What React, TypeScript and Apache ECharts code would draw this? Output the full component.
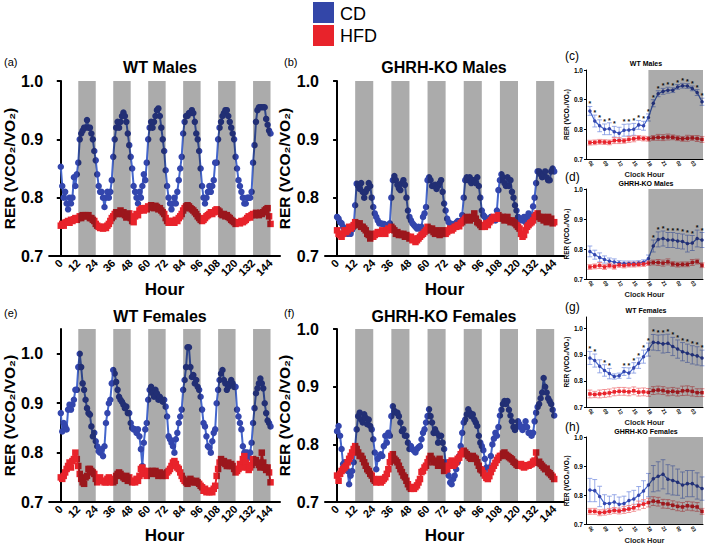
import React, { useEffect, useRef } from "react";
import * as echarts from "echarts";

// ---------- DATA ----------
const hours = Array.from({ length: 145 }, (_, i) => i);
const hourTicks = [0, 12, 24, 36, 48, 60, 72, 84, 96, 108, 120, 132, 144];
const darkBands = [[12, 24], [36, 48], [60, 72], [84, 96], [108, 120], [132, 144]];

const aCD = [
  0.853, 0.82, 0.80, 0.81, 0.79, 0.78, 0.80, 0.79, 0.80, 0.835,
  0.82, 0.84, 0.86, 0.90, 0.91, 0.915, 0.92, 0.92, 0.933, 0.92,
  0.92, 0.91, 0.90, 0.88, 0.864, 0.84, 0.82, 0.81, 0.81, 0.80,
  0.784, 0.80, 0.81, 0.80, 0.81, 0.83, 0.87, 0.90, 0.92, 0.93,
  0.92, 0.93, 0.94, 0.946, 0.94, 0.93, 0.91, 0.89, 0.87, 0.85,
  0.82, 0.81, 0.80, 0.79, 0.81, 0.80, 0.82, 0.84, 0.83, 0.86,
  0.90, 0.92, 0.93, 0.92, 0.93, 0.94, 0.95, 0.953, 0.94, 0.92,
  0.90, 0.88, 0.847, 0.82, 0.80, 0.79, 0.78, 0.79, 0.80, 0.79,
  0.81, 0.83, 0.85, 0.87, 0.91, 0.93, 0.94, 0.94, 0.945, 0.945,
  0.95, 0.945, 0.93, 0.91, 0.90, 0.88, 0.85, 0.82, 0.80, 0.79,
  0.80, 0.81, 0.82, 0.81, 0.82, 0.83, 0.86, 0.86, 0.90, 0.92,
  0.93, 0.94, 0.945, 0.95, 0.95, 0.94, 0.93, 0.92, 0.91, 0.90,
  0.87, 0.85, 0.83, 0.82, 0.81, 0.80, 0.79, 0.79, 0.80, 0.80,
  0.80, 0.81, 0.86, 0.89, 0.93, 0.95, 0.955, 0.955, 0.955, 0.955,
  0.955, 0.935, 0.925, 0.915, 0.91,
];
const aHFD = [
  0.752, 0.755, 0.752, 0.757, 0.758, 0.760, 0.757, 0.762, 0.760, 0.763,
  0.765, 0.762, 0.765, 0.768, 0.765, 0.770, 0.768, 0.770, 0.768, 0.770,
  0.765, 0.765, 0.762, 0.760, 0.755, 0.752, 0.750, 0.748, 0.750, 0.747,
  0.750, 0.748, 0.752, 0.755, 0.760, 0.765, 0.768, 0.772, 0.775, 0.772,
  0.775, 0.778, 0.772, 0.775, 0.770, 0.766, 0.770, 0.773, 0.765, 0.760,
  0.758, 0.768, 0.772, 0.770, 0.778, 0.780, 0.782, 0.778, 0.782, 0.780,
  0.785, 0.783, 0.787, 0.785, 0.782, 0.786, 0.784, 0.780, 0.782, 0.778,
  0.775, 0.772, 0.765, 0.760, 0.757, 0.760, 0.758, 0.760, 0.757, 0.762,
  0.760, 0.765, 0.768, 0.772, 0.778, 0.782, 0.785, 0.787, 0.785, 0.782,
  0.780, 0.778, 0.775, 0.772, 0.768, 0.765, 0.762, 0.760, 0.762, 0.765,
  0.768, 0.770, 0.772, 0.775, 0.772, 0.775, 0.778, 0.780, 0.778, 0.776,
  0.772, 0.770, 0.772, 0.768, 0.770, 0.767, 0.765, 0.762, 0.760, 0.758,
  0.755, 0.757, 0.758, 0.756, 0.760, 0.758, 0.760, 0.762, 0.765, 0.768,
  0.766, 0.770, 0.772, 0.770, 0.774, 0.772, 0.770, 0.774, 0.772, 0.775,
  0.778, 0.780, 0.782, 0.768, 0.755,
];
const bCD = [
  0.767, 0.764, 0.758, 0.756, 0.750, 0.744, 0.740, 0.738, 0.742, 0.738,
  0.745, 0.750, 0.787, 0.824, 0.820, 0.815, 0.825, 0.810, 0.800, 0.810,
  0.815, 0.825, 0.820, 0.800, 0.784, 0.773, 0.767, 0.761, 0.756, 0.756,
  0.755, 0.755, 0.753, 0.753, 0.750, 0.756, 0.800, 0.830, 0.837, 0.830,
  0.822, 0.816, 0.813, 0.825, 0.830, 0.822, 0.800, 0.778, 0.767, 0.761,
  0.756, 0.753, 0.750, 0.747, 0.750, 0.747, 0.750, 0.767, 0.773, 0.784,
  0.830, 0.835, 0.830, 0.820, 0.820, 0.822, 0.815, 0.820, 0.825, 0.830,
  0.810, 0.790, 0.778, 0.764, 0.758, 0.755, 0.755, 0.753, 0.755, 0.757,
  0.760, 0.758, 0.760, 0.770, 0.800, 0.830, 0.835, 0.830, 0.835, 0.825,
  0.830, 0.830, 0.825, 0.835, 0.820, 0.800, 0.778, 0.770, 0.767, 0.762,
  0.761, 0.762, 0.767, 0.765, 0.764, 0.761, 0.778, 0.813, 0.830, 0.840,
  0.835, 0.825, 0.820, 0.835, 0.820, 0.830, 0.810, 0.800, 0.787, 0.778,
  0.767, 0.761, 0.764, 0.761, 0.767, 0.758, 0.767, 0.773, 0.764, 0.767,
  0.785, 0.800, 0.825, 0.845, 0.845, 0.840, 0.835, 0.840, 0.845, 0.835,
  0.830, 0.830, 0.845, 0.850, 0.845,
];
const bHFD = [
  0.744, 0.738, 0.736, 0.733, 0.738, 0.744, 0.741, 0.744, 0.750, 0.747,
  0.750, 0.753, 0.758, 0.756, 0.753, 0.756, 0.750, 0.750, 0.747, 0.744,
  0.738, 0.736, 0.730, 0.738, 0.733, 0.736, 0.738, 0.741, 0.738, 0.741,
  0.744, 0.741, 0.738, 0.744, 0.747, 0.745, 0.750, 0.747, 0.744, 0.738,
  0.741, 0.736, 0.738, 0.736, 0.738, 0.733, 0.736, 0.733, 0.730, 0.733,
  0.727, 0.730, 0.724, 0.727, 0.730, 0.733, 0.736, 0.738, 0.741, 0.744,
  0.750, 0.747, 0.744, 0.747, 0.741, 0.738, 0.744, 0.741, 0.736, 0.738,
  0.744, 0.738, 0.738, 0.741, 0.744, 0.747, 0.744, 0.747, 0.750, 0.750,
  0.753, 0.751, 0.756, 0.758, 0.761, 0.764, 0.767, 0.764, 0.761, 0.764,
  0.767, 0.773, 0.764, 0.758, 0.756, 0.753, 0.750, 0.753, 0.750, 0.756,
  0.753, 0.758, 0.761, 0.764, 0.767, 0.764, 0.767, 0.770, 0.767, 0.764,
  0.767, 0.761, 0.764, 0.767, 0.761, 0.758, 0.761, 0.758, 0.756, 0.753,
  0.750, 0.747, 0.738, 0.733, 0.736, 0.744, 0.750, 0.753, 0.756, 0.758,
  0.761, 0.767, 0.770, 0.773, 0.767, 0.764, 0.767, 0.761, 0.764, 0.758,
  0.767, 0.761, 0.764, 0.756, 0.758,
];
const eCD = [
  0.88, 0.843, 0.86, 0.853, 0.847, 0.887, 0.897, 0.887, 0.897, 0.907,
  0.927, 0.927, 0.973, 1.0, 0.973, 0.94, 0.927, 0.907, 0.89, 0.88,
  0.877, 0.853, 0.833, 0.84, 0.823, 0.813, 0.803, 0.80, 0.807, 0.793,
  0.813, 0.86, 0.88, 0.90, 0.907, 0.94, 0.967, 0.96, 0.943, 0.927,
  0.913, 0.907, 0.903, 0.897, 0.89, 0.893, 0.88, 0.88, 0.86, 0.85,
  0.847, 0.847, 0.84, 0.847, 0.833, 0.807, 0.773, 0.82, 0.847, 0.86,
  0.907, 0.927, 0.933, 0.92, 0.913, 0.927, 0.92, 0.907, 0.913, 0.907,
  0.903, 0.907, 0.893, 0.873, 0.833, 0.827, 0.82, 0.813, 0.80, 0.827,
  0.84, 0.86, 0.873, 0.887, 0.927, 0.947, 0.973, 1.013, 1.013, 0.973,
  0.953, 0.957, 0.94, 0.947, 0.933, 0.927, 0.913, 0.887, 0.86, 0.853,
  0.833, 0.813, 0.81, 0.80, 0.823, 0.84, 0.847, 0.90, 0.927, 0.947,
  0.96, 0.967, 0.947, 0.94, 0.927, 0.933, 0.94, 0.947, 0.94, 0.933,
  0.933, 0.887, 0.873, 0.86, 0.847, 0.813, 0.80, 0.80, 0.80, 0.79,
  0.80, 0.82, 0.86, 0.89, 0.92, 0.93, 0.94, 0.95, 0.94, 0.93,
  0.90, 0.88, 0.865, 0.86, 0.853,
];
const eHFD = [
  0.75, 0.747, 0.753, 0.76, 0.767, 0.773, 0.78, 0.77, 0.783, 0.787,
  0.80, 0.787, 0.773, 0.757, 0.747, 0.74, 0.737, 0.75, 0.753, 0.767,
  0.767, 0.763, 0.76, 0.757, 0.747, 0.74, 0.747, 0.75, 0.743, 0.743,
  0.74, 0.74, 0.747, 0.75, 0.74, 0.747, 0.74, 0.743, 0.753, 0.757,
  0.76, 0.757, 0.753, 0.75, 0.747, 0.753, 0.743, 0.75, 0.743, 0.74,
  0.743, 0.74, 0.747, 0.743, 0.753, 0.767, 0.77, 0.763, 0.757, 0.753,
  0.763, 0.76, 0.757, 0.763, 0.76, 0.763, 0.757, 0.753, 0.76, 0.757,
  0.753, 0.757, 0.753, 0.76, 0.763, 0.767, 0.773, 0.78, 0.783, 0.777,
  0.77, 0.767, 0.76, 0.753, 0.747, 0.743, 0.74, 0.737, 0.743, 0.747,
  0.743, 0.74, 0.74, 0.743, 0.74, 0.737, 0.733, 0.73, 0.723, 0.727,
  0.72, 0.723, 0.72, 0.723, 0.72, 0.727, 0.733, 0.753, 0.767, 0.78,
  0.787, 0.78, 0.783, 0.777, 0.773, 0.78, 0.773, 0.777, 0.773, 0.767,
  0.76, 0.763, 0.767, 0.777, 0.77, 0.787, 0.793, 0.78, 0.77, 0.765,
  0.77, 0.775, 0.787, 0.78, 0.785, 0.78, 0.775, 0.77, 0.80, 0.78,
  0.77, 0.765, 0.77, 0.76, 0.74,
];
const fCD = [
  0.823, 0.832, 0.815, 0.792, 0.766, 0.769, 0.757, 0.754, 0.731, 0.746,
  0.754, 0.769, 0.797, 0.826, 0.849, 0.855, 0.843, 0.838, 0.852, 0.846,
  0.835, 0.843, 0.832, 0.826, 0.809, 0.786, 0.757, 0.775, 0.780, 0.783,
  0.780, 0.797, 0.815, 0.803, 0.820, 0.815, 0.849, 0.866, 0.858, 0.855,
  0.855, 0.849, 0.838, 0.823, 0.826, 0.815, 0.815, 0.803, 0.792, 0.797,
  0.792, 0.789, 0.786, 0.792, 0.795, 0.797, 0.809, 0.820, 0.826, 0.838,
  0.849, 0.861, 0.849, 0.838, 0.820, 0.826, 0.820, 0.803, 0.815, 0.815,
  0.803, 0.792, 0.769, 0.754, 0.746, 0.734, 0.731, 0.740, 0.746, 0.757,
  0.769, 0.780, 0.797, 0.820, 0.838, 0.843, 0.852, 0.861, 0.855, 0.849,
  0.852, 0.843, 0.838, 0.832, 0.815, 0.803, 0.797, 0.79, 0.775, 0.76,
  0.745, 0.76, 0.78, 0.80, 0.81, 0.82, 0.815, 0.83, 0.85, 0.86,
  0.87, 0.875, 0.87, 0.875, 0.86, 0.85, 0.84, 0.83, 0.825, 0.83,
  0.84, 0.835, 0.83, 0.825, 0.83, 0.84, 0.83, 0.82, 0.82, 0.815,
  0.82, 0.84, 0.855, 0.865, 0.87, 0.88, 0.89, 0.915, 0.90, 0.89,
  0.88, 0.875, 0.87, 0.86, 0.85,
];
const fHFD = [
  0.746, 0.737, 0.749, 0.754, 0.757, 0.760, 0.763, 0.769, 0.775, 0.780,
  0.786, 0.792, 0.797, 0.792, 0.786, 0.780, 0.780, 0.775, 0.769, 0.763,
  0.757, 0.754, 0.749, 0.746, 0.740, 0.737, 0.734, 0.737, 0.740, 0.734,
  0.737, 0.740, 0.743, 0.749, 0.757, 0.769, 0.780, 0.783, 0.775, 0.772,
  0.769, 0.763, 0.757, 0.752, 0.746, 0.743, 0.737, 0.731, 0.726, 0.723,
  0.726, 0.723, 0.726, 0.729, 0.734, 0.740, 0.752, 0.754, 0.760, 0.763,
  0.769, 0.775, 0.780, 0.775, 0.769, 0.772, 0.769, 0.763, 0.775, 0.769,
  0.763, 0.754, 0.757, 0.757, 0.763, 0.769, 0.772, 0.763, 0.766, 0.769,
  0.775, 0.777, 0.783, 0.786, 0.789, 0.786, 0.783, 0.780, 0.777, 0.775,
  0.780, 0.777, 0.775, 0.769, 0.763, 0.757, 0.755, 0.750, 0.746, 0.742,
  0.740, 0.745, 0.752, 0.758, 0.763, 0.768, 0.773, 0.777, 0.780, 0.780,
  0.784, 0.786, 0.782, 0.780, 0.778, 0.776, 0.774, 0.770, 0.768, 0.765,
  0.763, 0.764, 0.766, 0.762, 0.760, 0.762, 0.764, 0.763, 0.765, 0.766,
  0.770, 0.772, 0.786, 0.768, 0.770, 0.766, 0.763, 0.760, 0.757, 0.758,
  0.752, 0.750, 0.747, 0.744, 0.740,
];

// Clock-hour panels (06:00 .. 05:00 next day)
const clockHours = [6, 7, 8, 9, 10, 11, 12, 13, 14, 15, 16, 17, 18, 19, 20, 21, 22, 23, 24, 25, 26, 27, 28, 29];
const clockTicks = [6, 9, 12, 15, 18, 21, 24, 27];
const clockTickLabels = ["06", "09", "12", "15", "18", "21", "00", "03"];
const clockDark = [[18, 30]];

const cCD = [0.862, 0.828, 0.812, 0.80, 0.802, 0.792, 0.787, 0.797, 0.798, 0.80, 0.815, 0.812, 0.84, 0.888, 0.92, 0.928, 0.932, 0.932, 0.943, 0.947, 0.946, 0.938, 0.924, 0.893];
const cCDerr = [0.015, 0.02, 0.02, 0.018, 0.02, 0.018, 0.02, 0.02, 0.02, 0.02, 0.015, 0.015, 0.012, 0.012, 0.01, 0.01, 0.01, 0.008, 0.008, 0.008, 0.008, 0.008, 0.01, 0.012];
const cHFD = [0.755, 0.756, 0.758, 0.757, 0.756, 0.762, 0.762, 0.761, 0.766, 0.768, 0.771, 0.769, 0.768, 0.771, 0.773, 0.772, 0.774, 0.773, 0.770, 0.768, 0.770, 0.771, 0.769, 0.766];
const cHFDerr = [0.008, 0.008, 0.008, 0.008, 0.008, 0.01, 0.01, 0.008, 0.01, 0.01, 0.008, 0.008, 0.008, 0.008, 0.01, 0.01, 0.01, 0.008, 0.008, 0.008, 0.01, 0.008, 0.01, 0.01];
const cSig = [6, 7, 8, 9, 10, 11, 13, 14, 15, 16, 17, 18, 19, 20, 21, 22, 23, 24, 25, 26, 27, 28, 29];

const dCD = [0.792, 0.781, 0.772, 0.765, 0.76, 0.757, 0.753, 0.752, 0.752, 0.752, 0.753, 0.756, 0.768, 0.81, 0.832, 0.835, 0.83, 0.83, 0.827, 0.825, 0.818, 0.82, 0.835, 0.83];
const dCDerr = [0.018, 0.015, 0.015, 0.012, 0.01, 0.01, 0.008, 0.008, 0.008, 0.008, 0.008, 0.008, 0.012, 0.02, 0.025, 0.025, 0.025, 0.025, 0.025, 0.025, 0.028, 0.025, 0.028, 0.025];
const dHFD = [0.74, 0.742, 0.745, 0.74, 0.745, 0.741, 0.747, 0.745, 0.748, 0.748, 0.749, 0.75, 0.753, 0.755, 0.755, 0.753, 0.757, 0.75, 0.748, 0.749, 0.749, 0.755, 0.758, 0.746];
const dHFDerr = [0.008, 0.008, 0.01, 0.008, 0.008, 0.008, 0.008, 0.008, 0.008, 0.008, 0.008, 0.008, 0.008, 0.008, 0.01, 0.01, 0.01, 0.008, 0.008, 0.008, 0.008, 0.01, 0.008, 0.008];
const dSig = [19, 20, 21, 22, 23, 24, 25, 26, 27, 28, 29];

const gCD = [0.888, 0.878, 0.856, 0.84, 0.828, 0.817, 0.82, 0.836, 0.83, 0.85, 0.868, 0.893, 0.92, 0.948, 0.946, 0.942, 0.944, 0.932, 0.922, 0.912, 0.906, 0.90, 0.896, 0.888];
const gCDerr = [0.025, 0.025, 0.025, 0.022, 0.02, 0.01, 0.01, 0.015, 0.02, 0.02, 0.02, 0.025, 0.025, 0.03, 0.03, 0.035, 0.035, 0.035, 0.035, 0.035, 0.035, 0.035, 0.035, 0.03];
const gHFD = [0.75, 0.748, 0.75, 0.752, 0.754, 0.758, 0.76, 0.76, 0.758, 0.762, 0.757, 0.758, 0.756, 0.763, 0.765, 0.763, 0.758, 0.76, 0.757, 0.762, 0.763, 0.76, 0.755, 0.755];
const gHFDerr = [0.015, 0.012, 0.015, 0.015, 0.015, 0.015, 0.015, 0.015, 0.015, 0.015, 0.015, 0.015, 0.015, 0.015, 0.015, 0.015, 0.015, 0.015, 0.015, 0.018, 0.018, 0.018, 0.015, 0.015];
const gSig = [6, 7, 9, 10, 13, 14, 15, 16, 17, 18, 19, 20, 21, 22, 23, 24, 25, 26, 27, 28, 29];

const hCD = [0.818, 0.816, 0.796, 0.772, 0.772, 0.777, 0.769, 0.772, 0.782, 0.787, 0.80, 0.815, 0.835, 0.857, 0.865, 0.872, 0.855, 0.851, 0.845, 0.835, 0.84, 0.84, 0.832, 0.823];
const hCDerr = [0.04, 0.038, 0.035, 0.03, 0.025, 0.025, 0.025, 0.025, 0.03, 0.03, 0.03, 0.035, 0.04, 0.045, 0.05, 0.05, 0.05, 0.05, 0.045, 0.045, 0.045, 0.045, 0.045, 0.04];
const hHFD = [0.745, 0.745, 0.74, 0.742, 0.745, 0.748, 0.746, 0.75, 0.753, 0.757, 0.765, 0.77, 0.775, 0.78, 0.778, 0.771, 0.77, 0.766, 0.762, 0.76, 0.764, 0.762, 0.76, 0.745];
const hHFDerr = [0.01, 0.01, 0.01, 0.01, 0.01, 0.01, 0.01, 0.012, 0.012, 0.012, 0.015, 0.015, 0.015, 0.015, 0.015, 0.015, 0.015, 0.015, 0.015, 0.015, 0.015, 0.015, 0.015, 0.01];
const hSig: number[] = [];

const yTicks = [0.7, 0.8, 0.9, 1.0];

// ---------- STYLE ----------
const FONT = "'Liberation Sans', Arial, Helvetica, sans-serif";
const NARROW = "'Liberation Sans Narrow', 'Arial Narrow', 'Liberation Sans', Arial, sans-serif";
const BLUE_MARK = "#3346ad";
const BLUE_LINE = "#4466cc";
const BLUE_ERR = "#7f95e2";
const RED = "#e8232b";
const RED_ERR = "#f07a7e";
const SHADE = "rgba(0,0,0,0.33)";

function bandSeries(xi: number, bands: number[][]) {
  return {
    type: "custom",
    xAxisIndex: xi,
    yAxisIndex: xi,
    silent: true,
    z: 10,
    data: bands,
    encode: { x: [0, 1] },
    renderItem: (params: any, api: any) => {
      const cs = params.coordSys;
      const x0 = api.coord([api.value(0), 0.8])[0];
      const x1 = api.coord([api.value(1), 0.8])[0];
      const l = Math.max(x0, cs.x);
      const r = Math.min(x1, cs.x + cs.width);
      return {
        type: "rect",
        shape: { x: l, y: cs.y, width: r - l, height: cs.height },
        style: { fill: SHADE },
      };
    },
  };
}

function errSeries(xi: number, xs: number[], m: number[], e: number[], color: string) {
  return {
    type: "custom",
    xAxisIndex: xi,
    yAxisIndex: xi,
    silent: true,
    z: 2,
    data: xs.map((x, i) => [x, m[i], e[i]]),
    encode: { x: 0, y: 1 },
    renderItem: (params: any, api: any) => {
      const x = api.value(0), mm = api.value(1), ee = api.value(2);
      const hi = api.coord([x, mm + ee]);
      const lo = api.coord([x, mm - ee]);
      const w = 2.4;
      const st = { stroke: color, lineWidth: 0.8 };
      return {
        type: "group",
        children: [
          { type: "line", shape: { x1: hi[0], y1: hi[1], x2: lo[0], y2: lo[1] }, style: st },
          { type: "line", shape: { x1: hi[0] - w, y1: hi[1], x2: hi[0] + w, y2: hi[1] }, style: st },
          { type: "line", shape: { x1: lo[0] - w, y1: lo[1], x2: lo[0] + w, y2: lo[1] }, style: st },
        ],
      };
    },
  };
}

function starSeries(xi: number, sig: number[], m: number[], e: number[]) {
  return {
    type: "custom",
    xAxisIndex: xi,
    yAxisIndex: xi,
    silent: true,
    z: 6,
    data: sig.map((h) => [h, m[clockHours.indexOf(h)] + e[clockHours.indexOf(h)]]),
    encode: { x: 0, y: 1 },
    renderItem: (params: any, api: any) => {
      const p = api.coord([api.value(0), api.value(1)]);
      return {
        type: "text",
        x: p[0],
        y: p[1] + 1,
        style: { text: "*", fontSize: 7, fontWeight: "bold", fontFamily: FONT, fill: "#111", align: "center", verticalAlign: "bottom" },
      };
    },
  };
}

const bigGrids = [
  { left: 41, top: 81, width: 239, height: 175 },
  { left: 325, top: 81, width: 239, height: 175 },
  { left: 41, top: 329, width: 239, height: 174 },
  { left: 325, top: 329, width: 239, height: 174 },
];
const smallGrids = [
  { left: 586, top: 70, width: 117, height: 89 },
  { left: 586, top: 189, width: 117, height: 90 },
  { left: 586, top: 317, width: 117, height: 90 },
  { left: 586, top: 437, width: 117, height: 90 },
];

function buildOption() {
  const grid: any[] = [];
  const xAxis: any[] = [];
  const yAxis: any[] = [];
  const series: any[] = [];

  const bigData = [
    [aCD, aHFD, 1.0],
    [bCD, bHFD, 1.0],
    [eCD, eHFD, 1.05],
    [fCD, fHFD, 1.0],
  ];
  bigGrids.forEach((g, i) => {
    grid.push({ ...g, containLabel: false });
    xAxis.push({
      type: "value", gridIndex: i, min: -8, max: 150.5,
      name: "Hour", nameLocation: "middle", nameGap: 21,
      nameTextStyle: { fontSize: 17, fontWeight: "bold", color: "#000", fontFamily: FONT },
      axisLine: { lineStyle: { color: "#000", width: 2 } },
      axisTick: { show: false },
      splitLine: { show: false },
      axisLabel: {
        customValues: hourTicks, rotate: 45, margin: 5,
        fontSize: 11, fontWeight: "bold", color: "#000", fontFamily: FONT,
        formatter: (v: number) => String(v),
      },
    });
    yAxis.push({
      type: "value", gridIndex: i, min: 0.7, max: bigData[i][2],
      name: "RER (VCO₂/VO₂)", nameLocation: "middle", nameGap: 25,
      nameTextStyle: { fontSize: 15.5, fontWeight: "bold", color: "#000", fontFamily: FONT },
      axisLine: { show: true, lineStyle: { color: "#000", width: 2 } },
      axisTick: { show: true, customValues: yTicks, length: 4, lineStyle: { color: "#000", width: 2 } },
      splitLine: { show: false },
      axisLabel: {
        customValues: yTicks, margin: 6,
        fontSize: 16, fontWeight: "bold", color: "#000", fontFamily: FONT,
        formatter: (v: number) => v.toFixed(1),
      },
    });
    const cd = bigData[i][0] as number[];
    const hfd = bigData[i][1] as number[];
    series.push({
      type: "line", xAxisIndex: i, yAxisIndex: i, z: 3,
      data: hours.map((h, k) => [h, cd[k]]),
      symbol: "circle", symbolSize: 6.5, showSymbol: true,
      lineStyle: { color: BLUE_LINE, width: 2 },
      itemStyle: { color: BLUE_MARK },
    });
    series.push({
      type: "line", xAxisIndex: i, yAxisIndex: i, z: 4,
      data: hours.map((h, k) => [h, hfd[k]]),
      symbol: "rect", symbolSize: 6.5, showSymbol: true,
      lineStyle: { color: RED, width: 2 },
      itemStyle: { color: RED },
    });
    series.push(bandSeries(i, darkBands));
  });

  const smallData = [
    [cCD, cCDerr, cHFD, cHFDerr, cSig, 1.0],
    [dCD, dCDerr, dHFD, dHFDerr, dSig, 1.0],
    [gCD, gCDerr, gHFD, gHFDerr, gSig, 1.045],
    [hCD, hCDerr, hHFD, hHFDerr, hSig, 1.0],
  ];
  smallGrids.forEach((g, j) => {
    const i = j + 4;
    grid.push({ ...g, containLabel: false });
    xAxis.push({
      type: "value", gridIndex: i, min: 5.2, max: 29.2,
      name: "Clock Hour", nameLocation: "middle", nameGap: 7,
      nameTextStyle: { fontSize: 7.5, fontWeight: "bold", color: "#222", fontFamily: FONT },
      axisLine: { lineStyle: { color: "#000", width: 1 } },
      axisTick: { show: false },
      splitLine: { show: false },
      axisLabel: {
        customValues: clockTicks, rotate: -60, margin: 2,
        fontSize: 5, fontWeight: "bold", color: "#000", fontFamily: FONT,
        formatter: (v: number) => clockTickLabels[clockTicks.indexOf(v)] ?? "",
      },
    });
    yAxis.push({
      type: "value", gridIndex: i, min: 0.7, max: smallData[j][5],
      name: "RER (VCO₂/VO₂)", nameLocation: "middle", nameGap: 13,
      nameTextStyle: { fontSize: 6.5, fontWeight: "bold", color: "#000", fontFamily: FONT },
      axisLine: { show: true, lineStyle: { color: "#000", width: 1 } },
      axisTick: { show: true, customValues: yTicks, length: 2, lineStyle: { color: "#000", width: 1 } },
      splitLine: { show: false },
      axisLabel: {
        customValues: yTicks, margin: 3,
        fontSize: 6.5, fontWeight: "bold", color: "#000", fontFamily: FONT,
        formatter: (v: number) => v.toFixed(1),
      },
    });
    const [cd, cde, hfd, hfde, sig] = smallData[j] as any;
    series.push(errSeries(i, clockHours, cd, cde, BLUE_ERR));
    series.push(errSeries(i, clockHours, hfd, hfde, RED_ERR));
    series.push({
      type: "line", xAxisIndex: i, yAxisIndex: i, z: 3,
      data: clockHours.map((h, k) => [h, cd[k]]),
      symbol: "circle", symbolSize: 3.5,
      lineStyle: { color: BLUE_LINE, width: 1.2 },
      itemStyle: { color: BLUE_MARK },
    });
    series.push({
      type: "line", xAxisIndex: i, yAxisIndex: i, z: 4,
      data: clockHours.map((h, k) => [h, hfd[k]]),
      symbol: "rect", symbolSize: 3.5,
      lineStyle: { color: RED, width: 1 },
      itemStyle: { color: RED },
    });
    series.push(starSeries(i, sig, cd, cde));
    series.push(bandSeries(i, clockDark));
  });

  const txt = (text: string, x: number, y: number, size: number, opts: any = {}) => ({
    type: "text", x, y, silent: true, z: 20,
    style: {
      text, fontSize: size, fontFamily: opts.family || FONT, fill: "#000",
      fontWeight: opts.bold ? "bold" : "normal",
      align: opts.align || "left", verticalAlign: "middle",
    },
  });

  const graphic: any[] = [
    { type: "rect", shape: { x: 313, y: 2, width: 21, height: 21 }, style: { fill: "#3346a8" }, silent: true },
    { type: "rect", shape: { x: 313, y: 25, width: 21, height: 21 }, style: { fill: "#e8232b" }, silent: true },
    txt("CD", 340, 13.5, 18, { family: NARROW }),
    txt("HFD", 340, 36, 18, { family: NARROW }),
    txt("(a)", 4, 62, 11),
    txt("(b)", 284, 62, 11),
    txt("(e)", 4, 313, 11),
    txt("(f)", 284, 313, 11),
    txt("WT Males", 160, 67, 16, { bold: true, align: "center" }),
    txt("GHRH-KO Males", 444, 67, 16, { bold: true, align: "center" }),
    txt("WT Females", 160, 316, 16, { bold: true, align: "center" }),
    txt("GHRH-KO Females", 444, 316, 16, { bold: true, align: "center" }),
    txt("(c)", 565, 56, 12),
    txt("(d)", 565, 177, 12),
    txt("(g)", 565, 307, 12),
    txt("(h)", 565, 427, 12),
    txt("WT Males", 646, 63, 7, { bold: true, align: "center" }),
    txt("GHRH-KO Males", 646, 183, 7, { bold: true, align: "center" }),
    txt("WT Females", 646, 310, 7, { bold: true, align: "center" }),
    txt("GHRH-KO Females", 646, 431, 7, { bold: true, align: "center" }),
  ];

  return {
    animation: false,
    backgroundColor: "#fff",
    textStyle: { fontFamily: FONT },
    grid, xAxis, yAxis, series, graphic,
  };
}

export default function App() {
  const ref = useRef<HTMLDivElement>(null);
  useEffect(() => {
    document.body.style.margin = "0";
    if (!ref.current) return;
    const chart = echarts.init(ref.current, undefined, { renderer: "svg" });
    chart.setOption(buildOption() as any);
    return () => chart.dispose();
  }, []);
  return <div ref={ref} style={{ width: 709, height: 545 }} />;
}
